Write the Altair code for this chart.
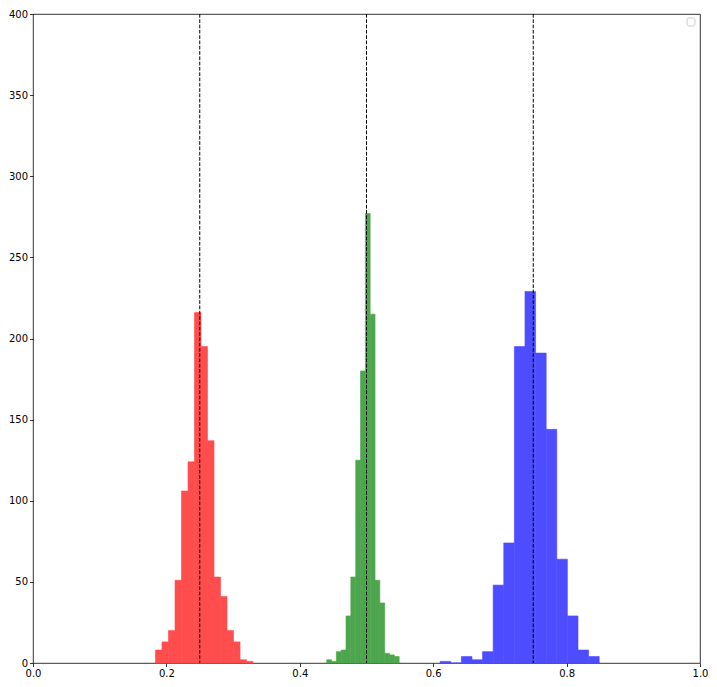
import altair as alt
import pandas as pd

# bin edges (16 per series) and counts (15 per series)
red_edges = [0.1836, 0.1934, 0.2031, 0.2129, 0.2226, 0.2324, 0.2421, 0.2519,
             0.2616, 0.2714, 0.2811, 0.2909, 0.3006, 0.3104, 0.3201, 0.3299]
red_counts = [8, 13, 20, 51, 106, 124, 216, 195, 137, 53, 41, 20, 13, 2, 1]

green_edges = [0.4403, 0.4475, 0.4548, 0.4620, 0.4693, 0.4765, 0.4838, 0.4910,
               0.4983, 0.5055, 0.5128, 0.5200, 0.5273, 0.5345, 0.5418, 0.5490]
green_counts = [2, 1, 7, 8, 29, 53, 125, 180, 277, 215, 51, 37, 6, 5, 4]

blue_edges = [0.6104, 0.6263, 0.6422, 0.6581, 0.6740, 0.6899, 0.7058, 0.7217,
              0.7376, 0.7535, 0.7694, 0.7853, 0.8012, 0.8171, 0.8330, 0.8489]
blue_counts = [1, 0, 4, 2, 7, 48, 74, 195, 229, 191, 144, 64, 29, 8, 4]

series_names = ["red", "green", "blue"]
series_colors = ["#ff4d4d", "#4da64d", "#4d4dff"]
means = [0.25, 0.5, 0.75]

x_ticks = [0, 0.2, 0.4, 0.6, 0.8, 1.0]
y_ticks = [0, 50, 100, 150, 200, 250, 300, 350, 400]

rows = []
for name, edges, counts in [("red", red_edges, red_counts),
                            ("green", green_edges, green_counts),
                            ("blue", blue_edges, blue_counts)]:
    for i, c in enumerate(counts):
        rows.append({"series": name, "start": edges[i], "end": edges[i + 1], "count": c})
df = pd.DataFrame(rows)
df_means = pd.DataFrame({"mean": means})

x_scale = alt.Scale(domain=[0, 1], nice=False, zero=False)
y_scale = alt.Scale(domain=[0, 400], nice=False)
color_scale = alt.Scale(domain=series_names, range=series_colors)

axis_common = dict(
    domain=False, grid=False, tickColor="black", tickSize=3.5, tickWidth=0.8,
    labelFont="DejaVu Sans", labelFontSize=10, labelColor="black", labelPadding=2,
    title=None,
)

bars = alt.Chart(df).mark_rect(strokeWidth=0.6).encode(
    x=alt.X("start:Q", scale=x_scale,
            axis=alt.Axis(values=x_ticks, format=".1f", labelFlush=False, **axis_common)),
    x2="end:Q",
    y=alt.Y("count:Q", scale=y_scale,
            axis=alt.Axis(values=y_ticks, format="d", **axis_common)),
    y2=alt.datum(0),
    color=alt.Color("series:N", scale=color_scale, legend=None),
    stroke=alt.Stroke("series:N", scale=color_scale, legend=None),
)

rules = alt.Chart(df_means).mark_rule(
    color="black", strokeWidth=1, strokeDash=[3.7, 1.6]
).encode(x=alt.X("mean:Q", scale=x_scale))

legend_box = alt.Chart(df_means.head(1)).mark_rect(
    fill="white", stroke="#cccccc", strokeWidth=1, cornerRadius=2
).encode(
    x=alt.value(654), x2=alt.value(662), y=alt.value(4), y2=alt.value(12)
)

chart = alt.layer(bars, rules, legend_box).properties(
    width=667, height=649,
    autosize=alt.AutoSizeParams(type="none"),
    padding={"left": 25, "top": 6, "right": 9, "bottom": 16},
).configure(
    background="white",
    view=alt.ViewConfig(stroke="black", strokeWidth=0.8),
)

chart.save("out.html", embed_options={"renderer": "svg", "actions": False})
